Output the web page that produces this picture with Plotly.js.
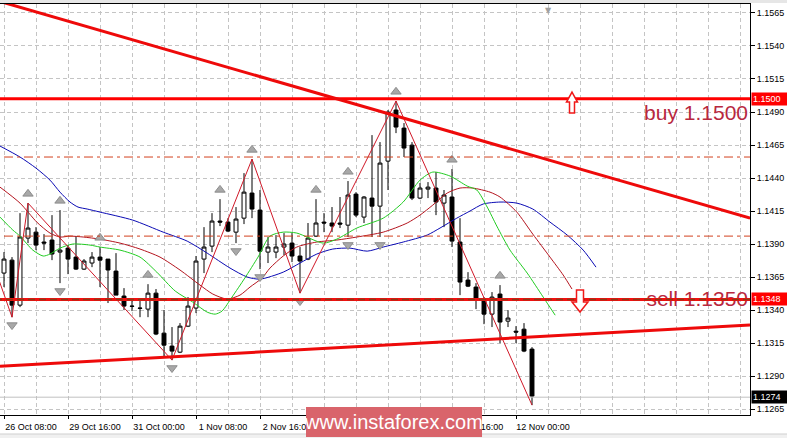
<!DOCTYPE html>
<html><head><meta charset="utf-8">
<script src="https://cdn.plot.ly/plotly-3.0.1.min.js"></script>
<style>html,body{margin:0;padding:0;background:#fff;overflow:hidden}#chart{width:787px;height:438px}</style>
</head><body><div id="chart"></div>
<script>
// ---- H4 candles (EURUSD) ----
const openP  = [1.13680,1.13778,1.13437,1.13945,1.13990,1.13915,1.13930,1.13839,1.13869,1.13801,
                1.13710,1.13756,1.13801,1.13786,1.13695,1.13506,1.13430,1.13415,1.13407,1.13528,
                1.13225,1.13127,1.13081,1.13278,1.13415,1.13786,1.13884,1.14074,1.14066,1.13990,
                1.14096,1.14286,1.14157,1.13839,1.13839,1.13877,1.13907,1.13809,1.13786,1.13960,
                1.14066,1.14059,1.14059,1.14043,1.14278,1.14104,1.14248,1.14187,1.14528,1.14915,
                1.14778,1.14649,1.14248,1.14316,1.14324,1.14210,1.14256,1.13915,1.13627,1.13574,
                1.13475,1.13369,1.13521,1.13316,1.13240,1.13255,1.13104];
const highP  = [1.13839,1.13801,1.14134,1.14210,1.14028,1.13975,1.14119,1.14157,1.13892,1.13960,
                1.13786,1.13839,1.13877,1.13786,1.13831,1.13566,1.13475,1.13490,1.13596,1.13559,
                1.13399,1.13271,1.13301,1.13498,1.13809,1.14028,1.14134,1.14240,1.14096,1.14180,
                1.14437,1.14543,1.14309,1.13953,1.13968,1.13983,1.13983,1.13877,1.14059,1.14240,
                1.14134,1.14180,1.14256,1.14377,1.14293,1.14263,1.14725,1.14672,1.14915,1.14983,
                1.14816,1.14672,1.14362,1.14369,1.14445,1.14309,1.14468,1.14096,1.13687,1.13604,
                1.13498,1.13536,1.13589,1.13399,1.13278,1.13301,1.13119];
const lowP   = [1.13574,1.13346,1.13422,1.13907,1.13854,1.13854,1.13778,1.13604,1.13672,1.13703,
                1.13703,1.13725,1.13574,1.13453,1.13513,1.13399,1.13392,1.13346,1.13346,1.13210,
                1.13043,1.13021,1.13074,1.13271,1.13377,1.13680,1.13839,1.14036,1.13990,1.13907,
                1.14051,1.14096,1.13710,1.13756,1.13793,1.13816,1.13763,1.13528,1.13778,1.13953,
                1.13990,1.13990,1.14021,1.13953,1.14104,1.14059,1.13953,1.13953,1.14309,1.14740,
                1.14559,1.14233,1.14240,1.14248,1.14119,1.14028,1.13877,1.13513,1.13574,1.13407,
                1.13293,1.13271,1.13149,1.13271,1.13149,1.13081,1.12680];
const closeP = [1.13786,1.13437,1.13953,1.14021,1.13892,1.13907,1.13824,1.13854,1.13786,1.13710,
                1.13771,1.13801,1.13778,1.13703,1.13513,1.13430,1.13428,1.13413,1.13528,1.13218,
                1.13134,1.13089,1.13278,1.13430,1.13771,1.13877,1.14074,1.14066,1.13998,1.14089,
                1.14293,1.14165,1.13846,1.13877,1.13877,1.13900,1.13809,1.13771,1.13945,1.14059,
                1.14059,1.14036,1.14051,1.14271,1.14119,1.14256,1.14187,1.14513,1.14899,1.14786,
                1.14627,1.14248,1.14324,1.14331,1.14218,1.14271,1.13922,1.13612,1.13581,1.13490,
                1.13369,1.13498,1.13309,1.13339,1.13233,1.13089,1.12748];

const tickIdx  = [0, 8, 16, 24, 32, 40, 48, 56, 64];
const tickText = ['26 Oct 08:00','29 Oct 16:00','31 Oct 00:00','1 Nov 08:00','2 Nov 16:00',
                  '6 Nov 00:00','7 Nov 08:00','8 Nov 16:00','12 Nov 00:00'];

// ---- Alligator lines (x in candle units) ----
const jawIdx   = [-0.5,2,4,5.75,7,8.25,9.25,10.4,12,16.1,19.9,22.9,25.4,28.25,30.4,32,34.9,37,39.1,41.1,43.25,45.4,47.4,49.9,52.9,54.5,56.6,58.25,59.9,62,64.1,66.1,68.25,70.4,72.4,74];
const jawPrice = [1.14642,1.14559,1.14475,1.14384,1.14293,1.14218,1.14180,1.14165,1.14142,1.14081,1.13990,1.13922,1.13831,1.13718,1.13650,1.13634,1.13687,1.13756,1.13824,1.13862,1.13869,1.13846,1.13877,1.13915,1.13968,1.14021,1.14096,1.14150,1.14203,1.14218,1.14210,1.14165,1.14066,1.13968,1.13854,1.13725];
const teethIdx   = [-0.5,2,4.1,5.75,7,8.25,9.9,12,14.5,17,19.5,22,24.5,26.1,27.9,29.5,30.75,32.25,33.25,34.9,36.6,39.1,41.6,44.1,47.4,50.4,52,53.6,55.4,57,58.6,60.75,62,64.1,66.1,68.25,69.9,71];
const teethPrice = [1.14331,1.14210,1.14066,1.13983,1.13953,1.13960,1.13953,1.13937,1.13907,1.13862,1.13801,1.13703,1.13589,1.13521,1.13483,1.13513,1.13574,1.13642,1.13718,1.13809,1.13877,1.13915,1.13930,1.13953,1.13990,1.14059,1.14119,1.14195,1.14286,1.14324,1.14324,1.14293,1.14256,1.14142,1.13975,1.13801,1.13665,1.13559];
const lipsIdx   = [-0.5,1.1,2,3.6,4.9,5.75,7,8.6,10.75,12,14.5,17,19.1,21.4,23.6,25.4,26.4,27.25,28.5,30.1,31.75,33.25,34.9,36.6,39.9,41.6,44.1,47.4,49.9,52,53.6,55.75,57.9,59.1,60.4,61.6,63.25,65.4,67.4,68.9];
const lipsPrice = [1.14104,1.14006,1.13960,1.13854,1.13809,1.13824,1.13869,1.13900,1.13892,1.13877,1.13854,1.13801,1.13687,1.13544,1.13460,1.13384,1.13369,1.13392,1.13498,1.13642,1.13801,1.13960,1.13990,1.13983,1.13907,1.13937,1.14021,1.14096,1.14218,1.14384,1.14445,1.14415,1.14339,1.14309,1.14180,1.14036,1.13854,1.13680,1.13498,1.13361];

// ---- ZigZag & fractals ----
const zigIdx   = [-3, 1, 3, 21, 31, 37, 49, 66];
const zigPrice = [1.14036, 1.13346, 1.14210, 1.13021, 1.14543, 1.13528, 1.14983, 1.12680];
const upFractalIdx   = [3, 7, 12, 18, 27, 31, 39, 43, 49, 56, 62];
const downFractalIdx = [1, 7, 21, 29, 32, 37, 43, 47];

// ---- levels & trend lines ----
const buyLevel = 1.1500, sellLevel = 1.1348, lastPrice = 1.1274;
const dashedLevels = [1.14559, 1.13960];
const resistIdx = [-0.5, 93.25], resistPrice = [1.15737, 1.14096];
const supportIdx = [-0.5, 93.25], supportPrice = [1.12975, 1.13286];
const buyText = 'buy 1.1500', sellText = 'sell 1.1350';
const buyTextPrice = 1.1488, sellTextPrice = 1.13468;
const buyArrowIdx = 71, buyArrowPrice = 1.14968;
const sellArrowIdx = 72, sellArrowPrice = 1.13468;

const X0 = -0.5, X1 = 93.25;
const idx = openP.map((_, i) => i);
const FONT = 'Liberation Sans, Arial, sans-serif';
const upOff = 0.0007, dnOff = 0.0006;

function hline(y, color, width, dash) {
  return {type:'scatter', mode:'lines', x:[X0-2, X1+2], y:[y, y], hoverinfo:'skip',
          line:{color:color, width:width, dash:dash||'solid'}, showlegend:false};
}

const traces = [
  hline(lastPrice, '#c0c0c0', 1),
  {type:'scatter', mode:'text', x:[93], y:[sellTextPrice], text:[sellText], textposition:'middle left',
   textfont:{family:FONT, size:21, color:'#b8283e'}, hoverinfo:'skip', cliponaxis:false},
  {type:'scatter', mode:'text', x:[93], y:[buyTextPrice], text:[buyText], textposition:'middle left',
   textfont:{family:FONT, size:21, color:'#b8283e'}, hoverinfo:'skip', cliponaxis:false},
  {type:'candlestick', x:idx, open:openP, high:highP, low:lowP, close:closeP, hoverinfo:'skip',
   increasing:{line:{color:'#000', width:1}, fillcolor:'#ffffff'},
   decreasing:{line:{color:'#000', width:1}, fillcolor:'#000000'}, whiskerwidth:0},
  {type:'scatter', mode:'lines', x:jawIdx, y:jawPrice, line:{color:'#0a0ab4', width:1, shape:'spline', smoothing:0.7}, hoverinfo:'skip'},
  {type:'scatter', mode:'lines', x:teethIdx, y:teethPrice, line:{color:'#b4141e', width:1, shape:'spline', smoothing:0.7}, hoverinfo:'skip'},
  {type:'scatter', mode:'lines', x:lipsIdx, y:lipsPrice, line:{color:'#22cc22', width:1, shape:'spline', smoothing:0.7}, hoverinfo:'skip'},
  {type:'scatter', mode:'lines', x:zigIdx, y:zigPrice, line:{color:'#d01828', width:1}, hoverinfo:'skip'},
  {type:'scatter', mode:'markers', x:upFractalIdx, y:upFractalIdx.map(i => highP[i] + upOff), hoverinfo:'skip',
   marker:{symbol:'triangle-up', size:9, color:'#a8a8a8', line:{width:1, color:'#8c8c8c'}}},
  {type:'scatter', mode:'markers', x:downFractalIdx, y:downFractalIdx.map(i => lowP[i] - dnOff), hoverinfo:'skip',
   marker:{symbol:'triangle-down', size:9, color:'#a8a8a8', line:{width:1, color:'#8c8c8c'}}},
  hline(dashedLevels[0], '#d2401e', 1, '9px,4px,3px,4px'),
  hline(dashedLevels[1], '#d2401e', 1, '9px,4px,3px,4px'),
  hline(buyLevel, '#ff0000', 3),
  hline(sellLevel, '#f01010', 3),
  hline(sellLevel, '#8a3a14', 1.5, '7px,4px'),
  {type:'scatter', mode:'lines', x:resistIdx, y:resistPrice, line:{color:'#ee0a0a', width:3}, hoverinfo:'skip'},
  {type:'scatter', mode:'lines', x:supportIdx, y:supportPrice, line:{color:'#ee0a0a', width:3}, hoverinfo:'skip'}
];

const grid = {gridcolor:'#c4c4c4', griddash:'4px,3px', gridwidth:1};
const layout = {
  width:787, height:438, margin:{l:0, r:37, t:4, b:23},
  paper_bgcolor:'#ffffff', plot_bgcolor:'#ffffff', showlegend:false,
  font:{family:FONT, size:9, color:'#000'},
  xaxis:Object.assign({
    range:[X0, X1], tickmode:'array', tickvals:tickIdx, ticktext:tickText,
    ticks:'outside', ticklen:3, tickcolor:'#000', showgrid:true,
    ticklabelshift:27, showline:true, linecolor:'#000', linewidth:1, mirror:true,
    zeroline:false, rangeslider:{visible:false}, fixedrange:true,
    tickfont:{family:FONT, size:9, color:'#000'},
    minor:{tickmode:'linear', tick0:0, dtick:4, showgrid:true, gridcolor:'#c4c4c4', griddash:'4px,3px', ticks:''}
  }, grid),
  yaxis:Object.assign({
    side:'right', range:[1.12605, 1.15718], tickmode:'linear', tick0:1.1265, dtick:0.0025,
    tickformat:'.4f', ticks:'outside', ticklen:4, tickcolor:'#000', showgrid:true,
    showline:true, linecolor:'#000', linewidth:1, zeroline:false, fixedrange:true,
    tickfont:{family:FONT, size:9, color:'#000'}
  }, grid),
  shapes:[
    {type:'rect', xref:'paper', yref:'paper', x0:-0.01, x1:1.06, y0:1.0024, y1:1.012, fillcolor:'#e6e6e6', line:{width:0}},
    {type:'rect', xref:'paper', yref:'paper', x0:-0.01, x1:1.06, y0:-0.058, y1:-0.0462, fillcolor:'#f0f0f0', line:{width:0}},
    {type:'line', xref:'paper', yref:'paper', x0:-0.01, x1:1.06, y0:-0.0462, y1:-0.0462, line:{color:'#d0d0d0', width:1}},
    {type:'rect', xref:'paper', yref:'paper', x0:0.408, x1:0.6427, y0:-0.0535, y1:0.0195, fillcolor:'#d9646b', line:{width:0}},
    {type:'path', xref:'x', yref:'y', xsizemode:'pixel', ysizemode:'pixel', xanchor:buyArrowIdx, yanchor:buyArrowPrice,
     path:'M 0 11 L 5.5 1 L 2.5 1 L 2.5 -10 L -2.5 -10 L -2.5 1 L -5.5 1 Z',
     fillcolor:'#ffffff', line:{color:'#f01818', width:1.5}},
    {type:'path', xref:'x', yref:'y', xsizemode:'pixel', ysizemode:'pixel', xanchor:sellArrowIdx, yanchor:sellArrowPrice,
     path:'M -3.5 11 L 3.5 11 L 3.5 -1 L 8 -1 L 0 -11 L -8 -1 L -3.5 -1 Z',
     fillcolor:'#ffffff', line:{color:'#f01818', width:1.5}}
  ],
  annotations:[
    {xref:'paper', x:0.5253, xanchor:'center', yref:'paper', y:-0.017, yanchor:'middle', text:'www.instaforex.com', showarrow:false,
     font:{family:'Liberation Sans Narrow, Arial Narrow, Liberation Sans, sans-serif', size:20, color:'#ffffff'}},
    {xref:'paper', x:1, xanchor:'left', xshift:1, yref:'y', y:buyLevel, text:'1.1500', showarrow:false,
     bgcolor:'#ff0000', font:{family:FONT, size:9, color:'#fff'}, borderpad:1, width:34, align:'left'},
    {xref:'paper', x:1, xanchor:'left', xshift:1, yref:'y', y:sellLevel, text:'1.1348', showarrow:false,
     bgcolor:'#ff0000', font:{family:FONT, size:9, color:'#fff'}, borderpad:1, width:34, align:'left'},
    {xref:'paper', x:1, xanchor:'left', xshift:1, yref:'y', y:lastPrice, text:'1.1274', showarrow:false,
     bgcolor:'#000000', font:{family:FONT, size:9, color:'#fff'}, borderpad:1, width:34, align:'left'},
    {xref:'x', x:68, yref:'paper', y:1, yanchor:'top', text:'\u25BC', showarrow:false, font:{family:'DejaVu Sans', size:8, color:'#a0a0a0'}}
  ]
};
Plotly.newPlot('chart', traces, layout, {staticPlot:true, displayModeBar:false});
</script></body></html>
